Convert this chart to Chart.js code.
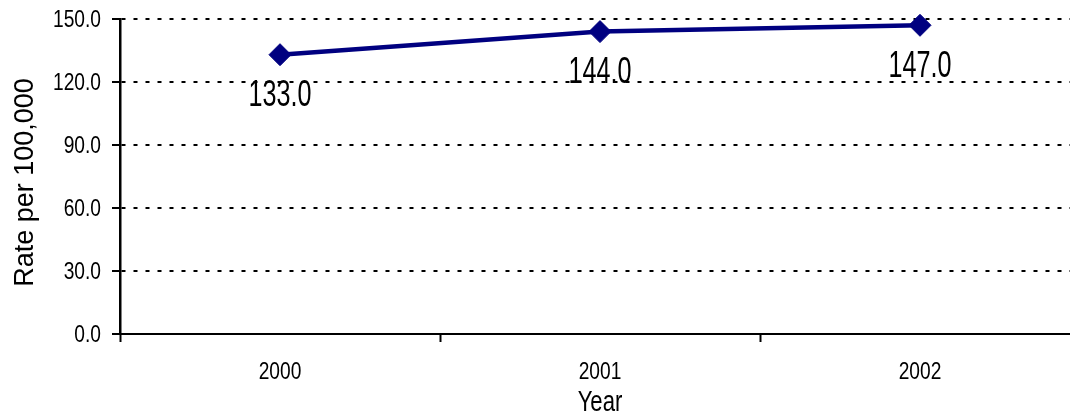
<!DOCTYPE html>
<html>
<head>
<meta charset="utf-8">
<script src="https://cdn.jsdelivr.net/npm/chart.js@4/dist/chart.umd.min.js"></script>
<style>
  html, body { margin: 0; padding: 0; background: #fff; overflow: hidden; }
  #wrap { width: 1070px; height: 414px; overflow: hidden; }
  #c { display: block; }
</style>
</head>
<body>
<!-- the plot runs slightly past the right edge of the frame -->
<div id="wrap"><canvas id="c" width="1080" height="414" style="width:1080px;height:414px"></canvas></div>
<script>
// Rate per 100,000 by year
const years = ['2000', '2001', '2002'];
const rates = [133.0, 144.0, 147.0];
const yTickValues = [0, 30, 60, 90, 120, 150];
const xTitle = 'Year';
const yTitle = 'Rate per 100,000';

const SANS = '"Liberation Sans", Arial, sans-serif';
const NAVY = '#000080';
const CAP = 0.716; // cap height of the sans face, in em

// Draws text squeezed horizontally (a narrow look) with its baseline at (x, y)
function narrowText(ctx, text, x, y, size, sx, sy, align) {
  ctx.save();
  ctx.translate(x, y);
  ctx.scale(sx, sy);
  ctx.font = size + 'px ' + SANS;
  ctx.textAlign = align;
  ctx.textBaseline = 'alphabetic';
  ctx.fillStyle = '#000';
  ctx.fillText(text, 0, 0);
  ctx.restore();
}

// Axis tick labels, axis titles and value labels
const textLayer = {
  id: 'textLayer',
  afterDatasetsDraw(chart) {
    const ctx = chart.ctx;
    const xs = chart.scales.x;
    const ys = chart.scales.y;
    const area = chart.chartArea;

    // y tick labels, right aligned, centred on each grid line
    const tickSize = 23.4;
    yTickValues.forEach(v => {
      const py = ys.getPixelForValue(v);
      narrowText(ctx, v.toFixed(1), area.left - 19, py + CAP * tickSize / 2, tickSize, 0.82, 1, 'right');
    });

    // x tick labels under each category
    years.forEach((label, i) => {
      const px = xs.getPixelForValue(i);
      narrowText(ctx, label, px, area.bottom + 45, tickSize, 0.82, 1, 'center');
    });

    // x axis title
    narrowText(ctx, xTitle, 600, 411, 27, 0.82, 1.08, 'center');

    // y axis title, rotated
    ctx.save();
    ctx.translate(33, (area.top + area.bottom) / 2 + 6);
    ctx.rotate(-Math.PI / 2);
    ctx.font = '27px ' + SANS;
    ctx.textAlign = 'center';
    ctx.textBaseline = 'alphabetic';
    ctx.fillStyle = '#000';
    ctx.fillText(yTitle, 0, 0);
    ctx.restore();

    // value labels below the markers
    const meta = chart.getDatasetMeta(0);
    meta.data.forEach((pt, i) => {
      narrowText(ctx, rates[i].toFixed(1), pt.x, pt.y + 51.5, 31, 0.812, 1.17, 'center');
    });
  }
};

new Chart(document.getElementById('c'), {
  type: 'line',
  data: {
    labels: years,
    datasets: [{
      data: rates,
      borderColor: NAVY,
      backgroundColor: NAVY,
      borderWidth: 4.5,
      tension: 0,
      clip: false,
      pointStyle: 'rectRot',
      pointRadius: 11,
      pointHoverRadius: 11,
      pointBorderWidth: 1,
      pointBackgroundColor: NAVY,
      pointBorderColor: NAVY,
      fill: false
    }]
  },
  options: {
    responsive: false,
    animation: false,
    events: [],
    layout: { autoPadding: false, padding: { top: 19, left: 0, right: 0, bottom: 0 } },
    plugins: {
      legend: { display: false },
      tooltip: { enabled: false },
      title: { display: false }
    },
    scales: {
      x: {
        type: 'category',
        offset: true,
        grid: {
          offset: true,
          drawOnChartArea: false,
          drawTicks: true,
          tickLength: 8,
          tickColor: '#000',
          tickWidth: 2
        },
        border: { display: true, color: '#000', width: 2 },
        ticks: { color: 'rgba(0,0,0,0)', font: { family: SANS, size: 1 }, maxRotation: 0 },
        afterFit(scale) { scale.height = 80; }
      },
      y: {
        min: 0,
        max: 150,
        afterBuildTicks(scale) {
          scale.ticks = yTickValues.map(v => ({ value: v }));
        },
        ticks: { color: 'rgba(0,0,0,0)', font: { family: SANS, size: 1 }, padding: 11 },
        grid: {
          color: '#000',
          lineWidth: 2,
          drawTicks: true,
          tickLength: 8,
          tickColor: '#000',
          tickWidth: 2,
          tickBorderDash: []
        },
        border: { display: true, color: '#000', width: 2.5, dash: [4, 8] },
        afterFit(scale) { scale.width = 120; }
      }
    }
  },
  plugins: [textLayer]
});
</script>
</body>
</html>
